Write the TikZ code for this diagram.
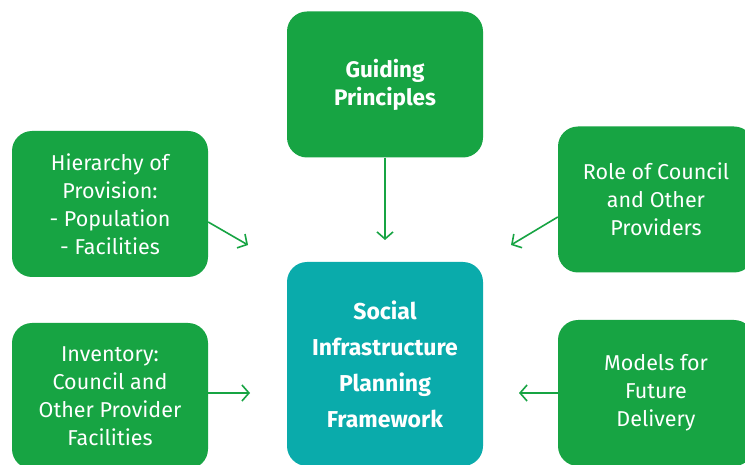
\documentclass[tikz,border=0pt]{standalone}
\usepackage{fontspec}
\setmainfont{Fira Sans}
\usetikzlibrary{arrows.meta}
\definecolor{boxgreen}{HTML}{17A443}
\definecolor{boxteal}{HTML}{0AABAB}
\begin{document}
\begin{tikzpicture}[x=1pt,y=-1pt,
  box/.style={rounded corners=20pt, fill=boxgreen, text=white, minimum width=196pt,
    minimum height=146pt, align=center, inner sep=0pt, font=\fontsize{21.5}{28}\selectfont},
  keybox/.style={box, font=\fontsize{22.5}{28}\selectfont\bfseries},
  link/.style={draw=boxgreen, line width=1.6pt, -{Straight Barb[length=7pt,width=16pt,line width=1.6pt]}}
]
\clip (0,0) rectangle (745,465);
\fill[white] (0,0) rectangle (745,465);
\node[keybox] (guide) at (385,84.5) {Guiding\\Principles};
\node[keybox, fill=boxteal, minimum height=204pt, font=\fontsize{23}{36}\selectfont\bfseries] (frame) at (385,364) {Social\\Infrastructure\\Planning\\Framework};
\node[box] (hier) at (110,204) {Hierarchy of\\Provision:\\- Population\\- Facilities};
\node[box] (role) at (656,199.5) {Role of Council\\and Other\\Providers};
\node[box] (inv) at (110,396) {Inventory:\\Council and\\Other Provider\\Facilities};
\node[box] (models) at (656,393) {Models for\\Future\\Delivery};
\coordinate (eguide) at (385,240);
\coordinate (ehier) at (248,245);
\coordinate (erole) at (511,245);
\coordinate (einv) at (250,393);
\coordinate (emodels) at (519,393);
\draw[link] (guide.south) -- (eguide);
\draw[link] ([yshift=-18pt]hier.east) -- (ehier);
\draw[link] ([yshift=-17.5pt]role.west) -- (erole);
\draw[link] ([yshift=3pt]inv.east) -- (einv);
\draw[link] (models.west) -- (emodels);
\end{tikzpicture}
\end{document}
